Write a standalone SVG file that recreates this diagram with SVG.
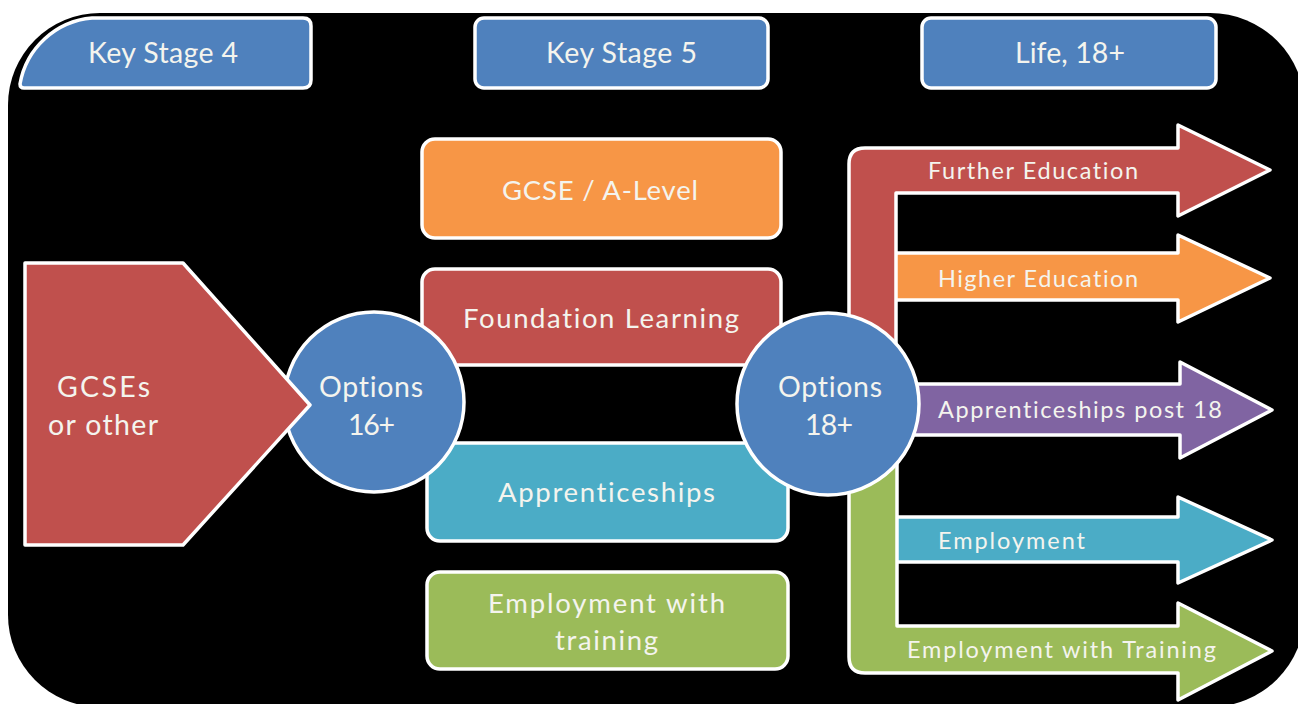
<svg xmlns="http://www.w3.org/2000/svg" width="1298" height="704" viewBox="0 0 1298 704">
  <style>
    .ol { stroke: #FFFFFF; stroke-width: 3.5; stroke-linejoin: round; }
    .blue { fill: #4F81BD; }
    .orange { fill: #F79646; }
    .red { fill: #C0504D; }
    .teal { fill: #4BACC6; }
    .green { fill: #9BBB59; }
    .purple { fill: #8064A2; }
    text { font-family: Lato, "Open Sans", "Liberation Sans", sans-serif; fill: #F4F4EE; font-variant-ligatures: none; }
    .hdr { font-size: 28.5px; }
    .box { font-size: 27.5px; }
    .big { font-size: 28.5px; }
    .arw { font-size: 23.5px; }
  </style>
  <rect x="0" y="0" width="1298" height="704" fill="#FFFFFF"/>
  <path id="background" d="M 100,13 L 1210,13 A 95 95 0 0 1 1305,108 L 1305,612 A 95 95 0 0 1 1210,707 L 100,707 A 92 92 0 0 1 8,615 L 8,105 A 92 92 0 0 1 100,13 Z" fill="#000000"/>

  <g id="ks4">
    <path class="blue ol" d="M 20,84 A 80 80 0 0 1 92,18 L 303,18 Q 311,18 311,26 L 311,80 Q 311,88 303,88 L 24,88 Q 20,88 20,84 Z"/>
    <text class="hdr" x="88" y="63" textLength="150">Key Stage 4</text>
  </g>
  <g id="ks5">
    <rect class="blue ol" x="475" y="18" width="293" height="70" rx="9"/>
    <text class="hdr" x="546" y="63" textLength="151">Key Stage 5</text>
  </g>
  <g id="life18">
    <rect class="blue ol" x="922" y="18" width="294" height="70" rx="9"/>
    <text class="hdr" x="1015" y="63" textLength="110">Life, 18+</text>
  </g>

  <g id="connectors">
    <path id="arrow-higher" class="orange ol" d="M 880,253 L 1178,253 L 1178,235 L 1270,278 L 1178,322 L 1178,300 L 880,300 Z"/>
    <path id="arrow-appr18" class="purple ol" d="M 880,384 L 1180,384 L 1180,362 L 1272,410 L 1180,458 L 1180,435 L 880,435 Z"/>
    <path id="arrow-employment" class="teal ol" d="M 880,517 L 1178,517 L 1178,497 L 1272,540 L 1178,583 L 1178,562 L 880,562 Z"/>
    <path id="arrow-further" class="red ol" d="M 849,404 L 849,164 Q 849,148 865,148 L 1178,148 L 1178,125 L 1270,170 L 1178,216 L 1178,193 L 896,193 L 896,404 Z"/>
    <path id="arrow-ewt" class="green ol" d="M 849,404 L 849,657 Q 849,673 865,673 L 1178,673 L 1178,700 L 1272,651 L 1178,603 L 1178,626 L 897,626 L 897,404 Z"/>
  </g>

  <g id="gcse-alevel">
    <rect class="orange ol" x="422" y="139" width="359" height="99" rx="13"/>
    <text class="box" x="502" y="200" textLength="196">GCSE / A-Level</text>
  </g>
  <g id="foundation">
    <rect class="red ol" x="422" y="269" width="359" height="96" rx="13"/>
    <text class="box" x="463" y="328" textLength="276">Foundation Learning</text>
  </g>
  <g id="apprenticeships">
    <rect class="teal ol" x="427" y="443" width="361" height="98" rx="13"/>
    <text class="box" x="498" y="502" textLength="217">Apprenticeships</text>
  </g>
  <g id="emp-training">
    <rect class="green ol" x="427" y="572" width="361" height="97" rx="13"/>
    <text class="box" x="488" y="613" textLength="237">Employment with</text>
    <text class="box" x="555" y="650" textLength="103">training</text>
  </g>

  <g id="options16">
    <circle class="blue ol" cx="374" cy="402" r="90"/>
    <text class="big" x="319" y="397" textLength="104">Options</text>
    <text class="big" x="348" y="435" textLength="47">16+</text>
  </g>
  <g id="options18">
    <circle class="blue ol" cx="828" cy="404" r="91"/>
    <text class="big" x="778" y="397" textLength="104">Options</text>
    <text class="big" x="805" y="435" textLength="48">18+</text>
  </g>

  <g id="gcses">
    <path class="red ol" d="M 25,263 L 183,263 L 310,405 L 183,545 L 25,545 Z"/>
    <text class="big" x="57" y="397" textLength="93">GCSEs</text>
    <text class="big" x="48" y="435" textLength="110">or other</text>
  </g>

  <g id="arrow-labels">
    <text class="arw" x="928" y="179" textLength="210">Further Education</text>
    <text class="arw" x="938" y="287" textLength="200">Higher Education</text>
    <text class="arw" x="938" y="418" textLength="284">Apprenticeships post 18</text>
    <text class="arw" x="938" y="549" textLength="147">Employment</text>
    <text class="arw" x="907" y="658" textLength="309">Employment with Training</text>
  </g>
</svg>
